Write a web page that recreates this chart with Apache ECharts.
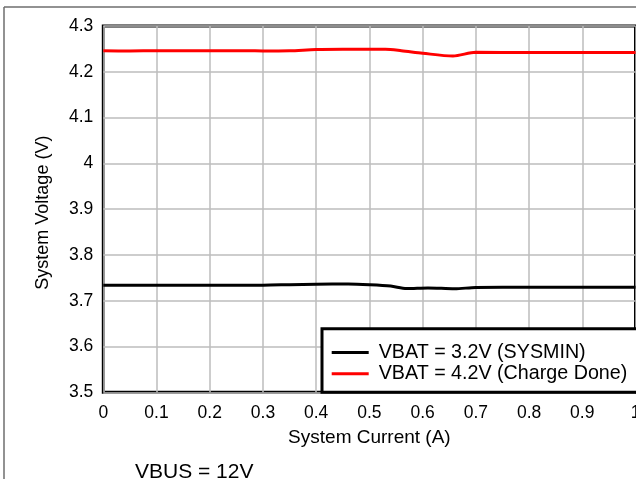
<!DOCTYPE html>
<html>
<head>
<meta charset="utf-8">
<script src="https://cdn.jsdelivr.net/npm/echarts@6/dist/echarts.min.js"></script>
<style>
html,body{margin:0;padding:0;background:#fff;}
#chart{width:636px;height:479px;}
</style>
</head>
<body>
<div id="chart"></div>
<script>
// ---- data ----
const seriesNames = ['VBAT = 3.2V (SYSMIN)', 'VBAT = 4.2V (Charge Done)'];
const sysminX = [0, 0.1, 0.2, 0.3, 0.35, 0.4, 0.46, 0.5, 0.54, 0.57, 0.61, 0.66, 0.7, 0.8, 0.9, 1.0];
const sysminY = [3.734, 3.734, 3.734, 3.734, 3.735, 3.736, 3.7365, 3.735, 3.732, 3.7265, 3.728, 3.726, 3.729, 3.7295, 3.7295, 3.7295];
const doneX = [0, 0.05, 0.1, 0.2, 0.27, 0.3, 0.35, 0.4, 0.45, 0.53, 0.56, 0.6, 0.657, 0.7, 0.8, 0.9, 1.0];
const doneY = [4.246, 4.2455, 4.246, 4.246, 4.246, 4.2455, 4.246, 4.2485, 4.249, 4.249, 4.246, 4.2405, 4.2345, 4.2425, 4.242, 4.242, 4.242];
const xMin = 0, xMax = 1, xStep = 0.1;
const yMin = 3.5, yMax = 4.3, yStep = 0.1;
const xTitle = 'System Current (A)';
const yTitle = 'System Voltage (V)';
const noteText = 'VBUS = 12V';

const FONT = '"Liberation Sans", Arial, sans-serif';
const zip = (xs, ys) => xs.map((x, i) => [x, ys[i]]);

const chart = echarts.init(document.getElementById('chart'));
chart.setOption({
  animation: false,
  backgroundColor: '#fff',
  textStyle: { fontFamily: FONT },
  grid: {
    left: 103.3, top: 26, width: 532.2, height: 366.3,
    show: true, borderColor: '#000', borderWidth: 3, backgroundColor: 'transparent',
    containLabel: false, outerBoundsMode: 'none'
  },
  xAxis: {
    type: 'value', min: xMin, max: xMax, interval: xStep,
    name: xTitle, nameLocation: 'middle', nameGap: 36,
    nameTextStyle: { color: '#000', fontSize: 19, fontFamily: FONT },
    axisLine: { show: false },
    axisTick: { show: false },
    axisLabel: { color: '#000', fontSize: 17.5, margin: 12, fontFamily: FONT },
    splitLine: { show: true, lineStyle: { color: '#bdbdbd', width: 1.5 } }
  },
  yAxis: {
    type: 'value', min: yMin, max: yMax, interval: yStep,
    name: yTitle, nameLocation: 'middle', nameGap: 51,
    nameTextStyle: { color: '#000', fontSize: 18, fontFamily: FONT, padding: [0, 7, 0, 0] },
    axisLine: { show: false },
    axisTick: { show: false },
    axisLabel: { color: '#000', fontSize: 17.5, margin: 10, fontFamily: FONT },
    splitLine: { show: true, lineStyle: { color: '#bdbdbd', width: 1.5 } }
  },
  legend: {
    orient: 'vertical', left: 331.7, top: 342.5, z: 100,
    icon: 'rect', itemWidth: 37, itemHeight: 3, itemGap: 1.2,
    padding: 0,
    textStyle: { color: '#000', fontSize: 19.7, fontFamily: FONT, lineHeight: 20, padding: [0, 0, 0, 5] },
    data: seriesNames
  },
  graphic: [
    { type: 'rect', z: 50, shape: { x: 322, y: 328.7, width: 400, height: 63.6 },
      style: { fill: '#fff', stroke: '#000', lineWidth: 3 } },
    { type: 'line', z: 50, shape: { x1: 4, y1: 7, x2: 640, y2: 7 },
      style: { stroke: '#6e6e6e', lineWidth: 1.5 } },
    { type: 'line', z: 50, shape: { x1: 4, y1: 7, x2: 4, y2: 480 },
      style: { stroke: '#6e6e6e', lineWidth: 1.5 } },
    { type: 'text', z: 50, x: 135, y: 472.5,
      style: { text: noteText, fill: '#000', fontSize: 21, fontFamily: FONT, verticalAlign: 'middle', align: 'left' } }
  ],
  series: [
    { name: seriesNames[0], type: 'line', data: zip(sysminX, sysminY), smooth: 0.3,
      showSymbol: false, symbol: 'none', color: '#000',
      lineStyle: { color: '#000', width: 3 } },
    { name: seriesNames[1], type: 'line', data: zip(doneX, doneY), smooth: 0.3,
      showSymbol: false, symbol: 'none', color: '#ff0000',
      lineStyle: { color: '#ff0000', width: 3 } }
  ]
});
</script>
</body>
</html>
